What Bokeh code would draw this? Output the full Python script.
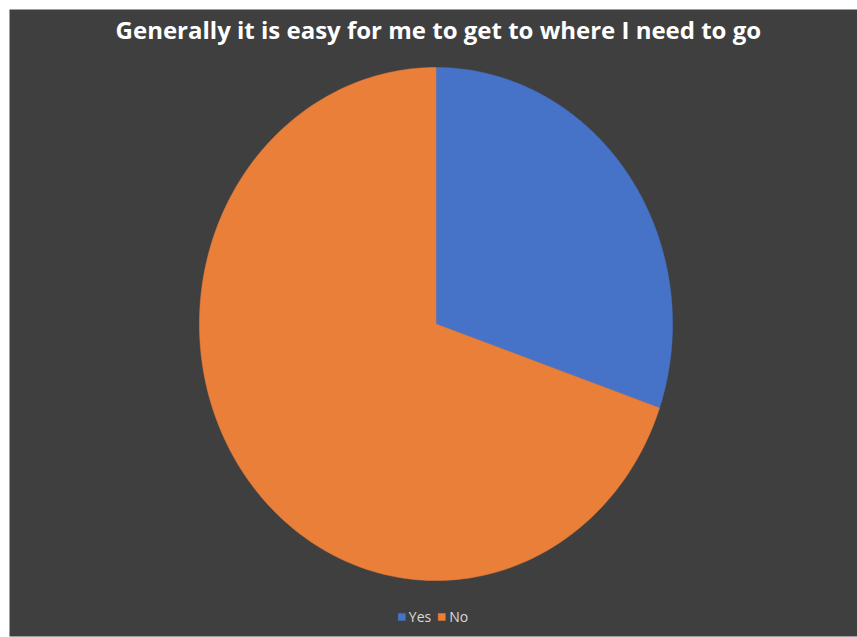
import numpy as np
from bokeh.plotting import figure
from bokeh.models import Range1d, Label, Legend, LegendItem, ColumnDataSource
from bokeh.embed import file_html
from bokeh.resources import INLINE

title_text = "Generally it is easy for me to get to where I need to go"
categories = ["Yes", "No"]
values = [30.3, 69.7]
colors = ["#4673C8", "#EA7F3A"]

p = figure(width=857, height=637, output_backend="svg", toolbar_location=None,
           x_range=Range1d(-1.803, 1.782), y_range=Range1d(-1.218, 1.226),
           x_axis_location=None, y_axis_location=None,
           min_border_left=9, min_border_top=9, min_border_right=0, min_border_bottom=1)
p.border_fill_color = "white"
p.background_fill_color = "#3f3f3f"
p.grid.visible = False
p.outline_line_color = None

total = float(sum(values))
fracs = np.array(values) / total
starts = np.concatenate([[0.0], np.cumsum(fracs)[:-1]])
items = []
for i, (cat, f, s) in enumerate(zip(categories, fracs, starts)):
    t = np.linspace(np.pi / 2 - 2 * np.pi * s, np.pi / 2 - 2 * np.pi * (s + f), 200)
    xs = np.concatenate([[0.0], np.cos(t)])
    ys = np.concatenate([[0.0], np.sin(t)])
    src = ColumnDataSource(dict(xs=[list(xs)], ys=[list(ys)]))
    r = p.patches("xs", "ys", source=src, fill_color=colors[i], line_color=colors[i], line_width=0.5)
    items.append(LegendItem(label=cat, renderers=[r]))

p.add_layout(Label(x=0.01, y=1.148, text=title_text, text_align="center", text_baseline="middle",
                   text_color="white", text_font="Open Sans", text_font_style="bold",
                   text_font_size="24px"))

legend = Legend(items=items, orientation="horizontal", location="bottom_center",
                background_fill_alpha=0, border_line_color=None,
                label_text_color="#d9d9d9", label_text_font="Open Sans",
                label_text_font_size="14px", glyph_width=9, glyph_height=9,
                spacing=6, label_standoff=3, margin=10, padding=4)
p.add_layout(legend)

open("out.html", "w").write(file_html(p, INLINE))
